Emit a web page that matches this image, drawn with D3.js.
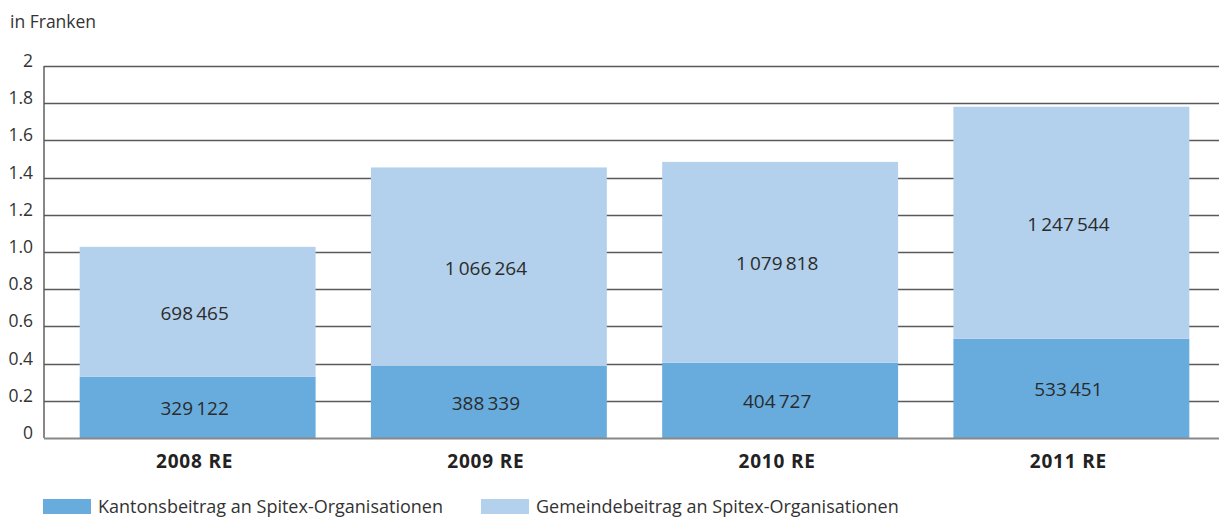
<!DOCTYPE html>
<html>
<head>
<meta charset="utf-8">
<script src="https://cdn.jsdelivr.net/npm/d3@7"></script>
<style>
  html, body { margin: 0; padding: 0; background: #fff; }
  svg { display: block; font-family: "Open Sans", "DejaVu Sans", sans-serif; }
</style>
</head>
<body>
<svg id="chart" width="1221" height="518"></svg>
<script>
// Beiträge an Spitex-Organisationen (in Franken)
const categories = ["2008 RE", "2009 RE", "2010 RE", "2011 RE"];
const kanton = [329122, 388339, 404727, 533451];
const gemeinde = [698465, 1066264, 1079818, 1247544];
const tickValues = [0, 0.2, 0.4, 0.6, 0.8, 1.0, 1.2, 1.4, 1.6, 1.8, 2];
const tickLabels = ["0", "0.2", "0.4", "0.6", "0.8", "1.0", "1.2", "1.4", "1.6", "1.8", "2"];
const seriesNames = ["Kantonsbeitrag an Spitex-Organisationen", "Gemeindebeitrag an Spitex-Organisationen"];
const colors = ["#68acde", "#b3d1ec"];

const svg = d3.select("#chart");
const plotLeft = 44, plotRight = 1219, plotTop = 66, plotBottom = 438;

const x = d3.scaleBand().domain(categories).range([52, 1217])
  .paddingInner(0.19).paddingOuter(0.095);
const y = d3.scaleLinear().domain([0, 2]).range([plotBottom, plotTop]);

const fmt = d3.formatLocale({ decimal: ".", thousands: "\u2009", grouping: [3], currency: ["", ""] }).format(",d");

// unit label
svg.append("text").attr("x", 10).attr("y", 28)
  .attr("font-size", 17.5).attr("fill", "#333").text("in Franken");

// horizontal grid lines
svg.append("g").selectAll("line").data(tickValues.slice(1)).join("line")
  .attr("x1", plotLeft).attr("x2", plotRight)
  .attr("y1", d => Math.round(y(d)) + 0.5).attr("y2", d => Math.round(y(d)) + 0.5)
  .attr("stroke", "#5a5a5a").attr("stroke-width", 1.4);

// tick labels
svg.append("g").selectAll("text").data(tickValues).join("text")
  .attr("x", 33).attr("y", d => y(d) + 1)
  .attr("text-anchor", "end").attr("font-size", 17.5).attr("fill", "#333")
  .text((d, i) => tickLabels[i]);

// stacked data
const rows = categories.map((c, i) => ({ cat: c, kanton: kanton[i], gemeinde: gemeinde[i] }));
const stack = d3.stack().keys(["kanton", "gemeinde"]);
const layers = stack(rows);

const g = svg.append("g");
layers.forEach((layer, li) => {
  g.selectAll(null).data(layer).join("rect")
    .attr("x", d => x(d.data.cat))
    .attr("width", x.bandwidth())
    .attr("y", d => y(d[1] / 1e6))
    .attr("height", d => y(d[0] / 1e6) - y(d[1] / 1e6))
    .attr("fill", colors[li]);
  g.selectAll(null).data(layer).join("text")
    .attr("x", d => x(d.data.cat) + x.bandwidth() / 2 - 3)
    .attr("y", d => (y(d[0] / 1e6) + y(d[1] / 1e6)) / 2 + 3)
    .attr("text-anchor", "middle").attr("dominant-baseline", "middle")
    .attr("font-size", 19).attr("fill", "#2b2b2b")
    .text(d => fmt(d[1] - d[0]));
});

// axis lines
svg.append("line").attr("x1", plotLeft).attr("x2", plotLeft).attr("y1", plotTop).attr("y2", plotBottom)
  .attr("stroke", "#555").attr("stroke-width", 1.4);
svg.append("line").attr("x1", plotLeft).attr("x2", plotRight).attr("y1", plotBottom + 0.5).attr("y2", plotBottom + 0.5)
  .attr("stroke", "#888").attr("stroke-width", 2);

// category labels
svg.append("g").selectAll("text").data(categories).join("text")
  .attr("x", d => x(d) + x.bandwidth() / 2 - 3).attr("y", 468)
  .attr("text-anchor", "middle").attr("font-size", 19).attr("font-weight", "bold")
  .attr("letter-spacing", 0.8)
  .attr("fill", "#222").text(d => d);

// legend
const legendX = [43, 481];
const lg = svg.append("g");
seriesNames.forEach((name, i) => {
  lg.append("rect").attr("x", legendX[i]).attr("y", 499).attr("width", 48).attr("height", 15)
    .attr("fill", colors[i]);
  lg.append("text").attr("x", legendX[i] + 55).attr("y", 513)
    .attr("font-size", 18).attr("fill", "#333").text(name);
});
</script>
</body>
</html>
